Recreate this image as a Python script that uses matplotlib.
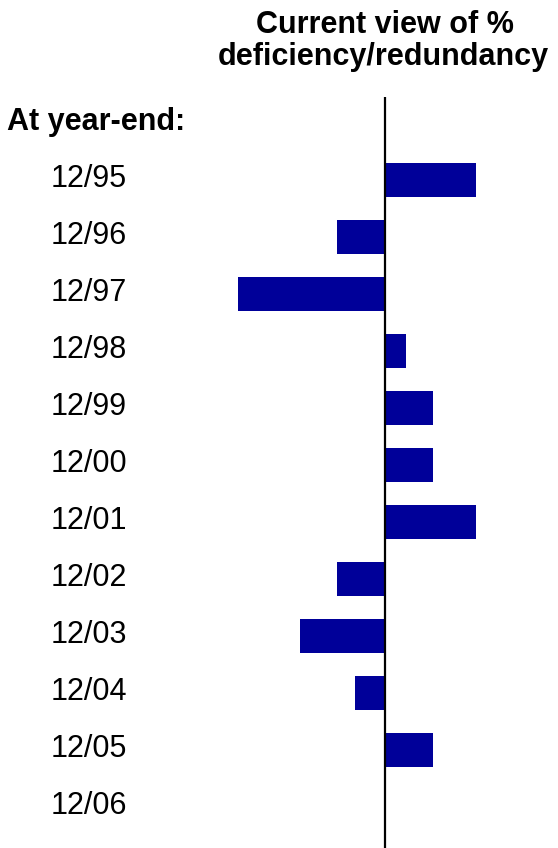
import matplotlib.pyplot as plt

plt.rcParams['font.family'] = ['Liberation Sans', 'DejaVu Sans']

# Year-end labels and the current view of % deficiency (-) / redundancy (+)
years = ['12/95', '12/96', '12/97', '12/98', '12/99', '12/00',
         '12/01', '12/02', '12/03', '12/04', '12/05', '12/06']
values = [9.1, -4.8, -14.7, 2.1, 4.8, 4.8, 9.1, -4.8, -8.5, -3.0, 4.8, 0.0]


def plot_view(outfile: str) -> None:
    fig = plt.figure(figsize=(5.58, 8.48), dpi=100)
    ax = fig.add_axes([0, 0, 1, 0.8856])

    pos = list(range(len(years)))
    ax.barh(pos, values, height=0.61, color='#000099', zorder=2)
    ax.axvline(0, color='black', lw=1.6, zorder=3)

    ax.set_xlim(-38.5, 17.3)
    ax.set_ylim(11.72, -1.456)
    ax.axis('off')

    # category labels sit a touch below the bar centres
    for p, lab in zip(pos, years):
        ax.text(0.09, p + 0.123, lab, transform=ax.get_yaxis_transform(),
                ha='left', va='baseline', fontsize=22)

    fig.text(0.012, 1 - 130 / 848, 'At year-end:', ha='left', va='baseline',
             fontsize=22, fontweight='bold')
    fig.text(0.69, 1 - 33 / 848, 'Current view of %', ha='center',
             va='baseline', fontsize=22, fontweight='bold')
    fig.text(0.687, 1 - 65 / 848, 'deficiency/redundancy', ha='center',
             va='baseline', fontsize=22, fontweight='bold')

    fig.savefig(outfile, dpi=100)


if __name__ == '__main__':
    plot_view('out.png')
